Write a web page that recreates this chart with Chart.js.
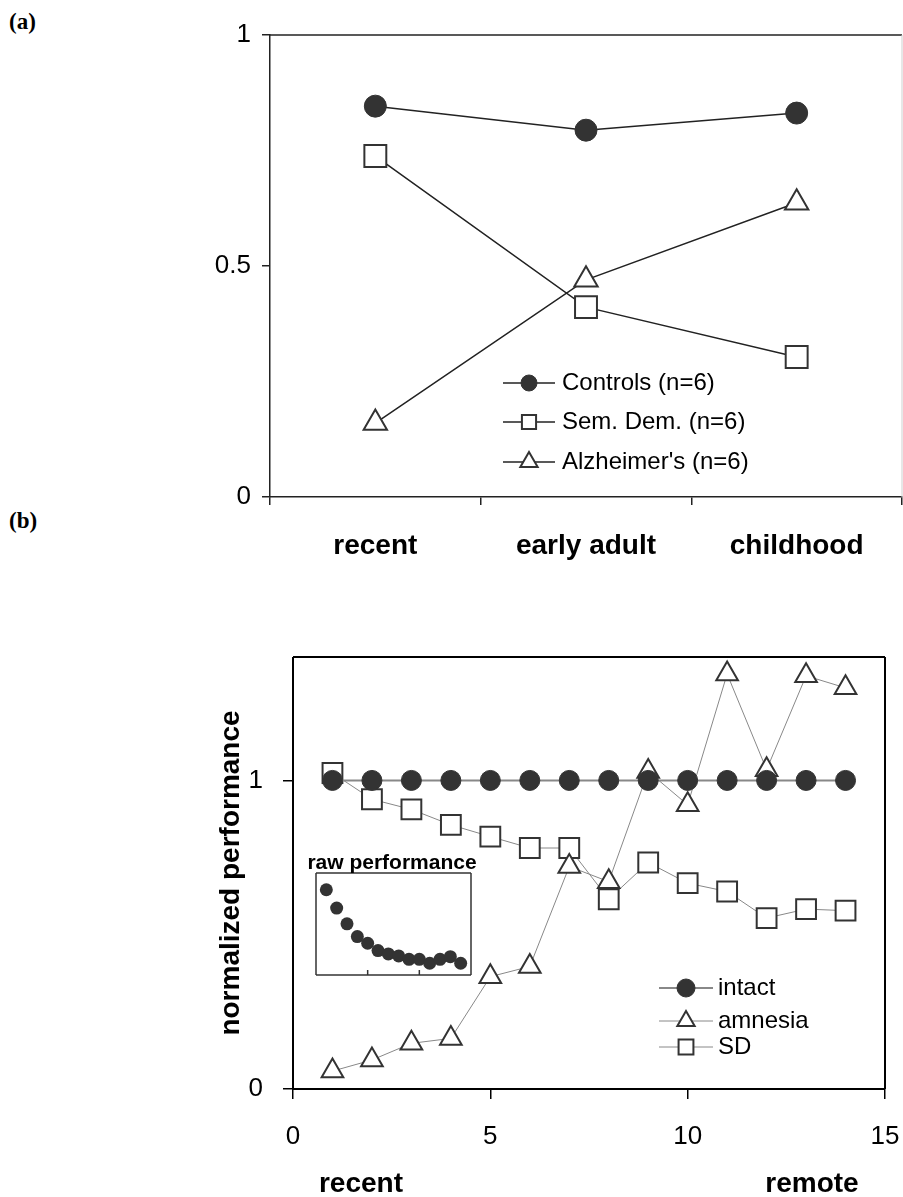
<!DOCTYPE html>
<html>
<head>
<meta charset="utf-8">
<script src="https://cdn.jsdelivr.net/npm/chart.js@4.4.1/dist/chart.umd.min.js"></script>
<style>
body { margin:0; background:#fff; width:903px; height:1197px; position:relative; overflow:hidden; font-family:"Liberation Sans", Arial, sans-serif; }
.wrap { position:absolute; }
.panel { position:absolute; left:9px; font-family:"Liberation Serif","Times New Roman",serif; font-weight:bold; font-size:23px; line-height:23px; }
.xt { position:absolute; font-weight:bold; font-size:28px; line-height:28px; transform:translateX(-50%); white-space:nowrap; }
.inset-title { position:absolute; font-weight:bold; font-size:21px; line-height:21px; transform:translateX(-50%); white-space:nowrap; }
</style>
</head>
<body>
<div class="panel" style="top:10px">(a)</div>
<div class="panel" style="top:509px">(b)</div>

<div class="wrap" style="left:0;top:0;width:903px;height:600px"><canvas id="chartA"></canvas></div>
<div class="wrap" style="left:0;top:600px;width:903px;height:597px"><canvas id="chartB"></canvas></div>
<div class="wrap" style="left:306px;top:863px;width:180px;height:120px"><canvas id="inset"></canvas></div>

<div class="inset-title" style="left:392px;top:851px">raw performance</div>
<div class="xt" style="left:361px;top:1169px">recent</div>
<div class="xt" style="left:812px;top:1169px">remote</div>

<script>
// (a) remote memory by period
var periods = ["recent", "early adult", "childhood"];
var controls = [0.846, 0.794, 0.831];
var semDem = [0.738, 0.411, 0.303];
var alzheimers = [0.160, 0.470, 0.637];

// (b) model, normalized performance by lag
var lags = [1, 2, 3, 4, 5, 6, 7, 8, 9, 10, 11, 12, 13, 14];
var intact = [1, 1, 1, 1, 1, 1, 1, 1, 1, 1, 1, 1, 1, 1];
var amnesia = [0.058, 0.094, 0.148, 0.164, 0.364, 0.397, 0.721, 0.672, 1.029, 0.921, 1.345, 1.035, 1.339, 1.30];
var sd = [1.024, 0.939, 0.906, 0.856, 0.818, 0.781, 0.781, 0.615, 0.734, 0.667, 0.640, 0.554, 0.583, 0.578];
var yTicksB = [0, 1];

// inset, raw performance of intact model
var raw = [0.836, 0.656, 0.502, 0.377, 0.311, 0.239, 0.207, 0.187, 0.154, 0.154, 0.115, 0.154, 0.180, 0.115];
var insetTicks = [5, 10];

Chart.defaults.font.family = '"Liberation Sans", Arial, sans-serif';
Chart.defaults.color = '#000';
Chart.defaults.animation = false;

// fixed axis sizes so the plot boxes land where the original has them
function fixW(w) { return function (s) { s.width = w; s.paddingTop = 0; s.paddingBottom = 0; }; }
function fixH(h) { return function (s) { s.height = h; s.paddingLeft = 0; s.paddingRight = 0; }; }
function pts(xs, ys) { return xs.map(function (x, i) { return { x: x, y: ys[i] }; }); }
function plainNum(v) { return String(v); }

// box sides + small inward ticks
var frame = {
    id: 'frame',
    beforeDatasetsDraw: function (chart, args, o) {
        var a = chart.chartArea, ctx = chart.ctx;
        ctx.save();
        function side(col, x1, y1, x2, y2) {
            if (!col) return;
            ctx.strokeStyle = col;
            ctx.beginPath(); ctx.moveTo(x1, y1); ctx.lineTo(x2, y2); ctx.stroke();
        }
        ctx.lineWidth = o.width || 1;
        side(o.top, a.left, a.top, a.right, a.top);
        side(o.bottom, a.left, a.bottom, a.right, a.bottom);
        side(o.left, a.left, a.top, a.left, a.bottom);
        ctx.lineWidth = o.rightWidth || o.width || 1;
        side(o.right, a.right, a.top, a.right, a.bottom);
        if (o.ticks) {
            ctx.lineWidth = o.width || 1;
            o.ticks.forEach(function (v) {
                var x = chart.scales.x.getPixelForValue(v);
                side(o.bottom || '#000', x, a.bottom, x, a.bottom - 5);
            });
        }
        ctx.restore();
    }
};

function marker(ctx, style, r, x, y) {
    ctx.beginPath();
    if (style === 'circle') {
        ctx.arc(x, y, r, 0, Math.PI * 2);
    } else if (style === 'rect') {
        var s = r * Math.SQRT1_2;
        ctx.rect(x - s, y - s, 2 * s, 2 * s);
    } else {
        ctx.moveTo(x, y - r);
        ctx.lineTo(x + r * 0.866, y + r / 2);
        ctx.lineTo(x - r * 0.866, y + r / 2);
        ctx.closePath();
    }
    ctx.fill();
    ctx.stroke();
}

// legend drawn as line-through-marker rows
var lineLegend = {
    id: 'lineLegend',
    afterDraw: function (chart, args, o) {
        var ctx = chart.ctx;
        ctx.save();
        ctx.font = o.font;
        ctx.textBaseline = 'middle';
        chart.data.datasets.forEach(function (ds, i) {
            var y = o.rows[i];
            ctx.strokeStyle = ds.borderColor;
            ctx.lineWidth = ds.borderWidth;
            ctx.beginPath(); ctx.moveTo(o.x0, y); ctx.lineTo(o.x1, y); ctx.stroke();
            ctx.fillStyle = ds.pointBackgroundColor;
            ctx.strokeStyle = ds.pointBorderColor;
            ctx.lineWidth = ds.pointBorderWidth;
            marker(ctx, ds.pointStyle, o.radius[i], (o.x0 + o.x1) / 2, y);
            ctx.fillStyle = '#000';
            ctx.fillText(ds.label, o.tx, y);
        });
        ctx.restore();
    }
};

new Chart(document.getElementById('chartA'), {
    type: 'line',
    data: {
        labels: periods,
        datasets: [
            { label: 'Controls (n=6)', data: controls, borderColor: '#222', borderWidth: 1.5,
              pointStyle: 'circle', pointRadius: 11, pointBackgroundColor: '#333', pointBorderColor: '#333', pointBorderWidth: 1 },
            { label: 'Sem. Dem. (n=6)', data: semDem, borderColor: '#222', borderWidth: 1.5,
              pointStyle: 'rect', pointRadius: 15.5, pointBackgroundColor: '#fff', pointBorderColor: '#333', pointBorderWidth: 2 },
            { label: "Alzheimer's (n=6)", data: alzheimers, borderColor: '#222', borderWidth: 1.5,
              pointStyle: 'triangle', pointRadius: 13.5, pointBackgroundColor: '#fff', pointBorderColor: '#333', pointBorderWidth: 2 }
        ]
    },
    options: {
        responsive: true, maintainAspectRatio: false,
        layout: { autoPadding: false, padding: { top: 35, right: 1, left: 0, bottom: 0 } },
        plugins: {
            legend: { display: false }, tooltip: { enabled: false },
            frame: { top: '#222', right: '#cfcfcf', width: 1.5, rightWidth: 1 },
            lineLegend: { x0: 503, x1: 555, tx: 562, rows: [383, 422, 462], radius: [8, 10, 10],
                          font: '24px "Liberation Sans", Arial, sans-serif' }
        },
        scales: {
            x: {
                type: 'category', offset: true,
                grid: { offset: true, drawOnChartArea: false, tickLength: 8, lineWidth: 1.5,
                        color: function (c) { return c.index === 3 ? 'rgba(0,0,0,0)' : '#222'; } },
                border: { color: '#222', width: 1.5 },
                ticks: { font: { size: 28, weight: 'bold' }, padding: 24 },
                afterFit: fixH(103)
            },
            y: {
                min: 0, max: 1,
                ticks: { stepSize: 0.5, font: { size: 26 }, padding: 11, callback: plainNum },
                grid: { drawOnChartArea: false, tickLength: 8, color: '#222', lineWidth: 1.5 },
                border: { color: '#222', width: 1.5 },
                afterFit: fixW(270)
            }
        }
    },
    plugins: [frame, lineLegend]
});

new Chart(document.getElementById('chartB'), {
    type: 'line',
    data: {
        datasets: [
            { label: 'intact', data: pts(lags, intact), borderColor: '#888', borderWidth: 2,
              pointStyle: 'circle', pointRadius: 10, pointBackgroundColor: '#333', pointBorderColor: '#333', pointBorderWidth: 1 },
            { label: 'amnesia', data: pts(lags, amnesia), borderColor: '#888', borderWidth: 1,
              pointStyle: 'triangle', pointRadius: 12.5, pointBackgroundColor: '#fff', pointBorderColor: '#333', pointBorderWidth: 2 },
            { label: 'SD', data: pts(lags, sd), borderColor: '#888', borderWidth: 1,
              pointStyle: 'rect', pointRadius: 14, pointBackgroundColor: '#fff', pointBorderColor: '#333', pointBorderWidth: 2 }
        ]
    },
    options: {
        responsive: true, maintainAspectRatio: false,
        layout: { autoPadding: false, padding: { top: 57, right: 18, left: 0, bottom: 0 } },
        plugins: {
            legend: { display: false }, tooltip: { enabled: false },
            frame: { top: '#000', right: '#000', bottom: '#000', left: '#000', width: 2 },
            lineLegend: { x0: 659, x1: 713, tx: 718, rows: [388, 421, 447], radius: [9, 10, 10.5],
                          font: '24px "Liberation Sans", Arial, sans-serif' }
        },
        scales: {
            x: {
                type: 'linear', min: 0, max: 15,
                ticks: { stepSize: 5, font: { size: 26 }, padding: 22 },
                grid: { drawOnChartArea: false, tickLength: 10, color: '#000', lineWidth: 1.5 },
                border: { display: false },
                afterFit: fixH(108)
            },
            y: {
                min: 0, max: 1.4,
                afterBuildTicks: function (s) { s.ticks = yTicksB.map(function (v) { return { value: v }; }); },
                ticks: { font: { size: 26 }, padding: 20 },
                grid: { drawOnChartArea: false, tickLength: 10, color: '#000', lineWidth: 1.5 },
                border: { display: false },
                title: { display: true, text: 'normalized performance', font: { size: 28, weight: 'bold' },
                         padding: { top: 214, bottom: 0 } },
                afterFit: fixW(293)
            }
        }
    },
    plugins: [frame, lineLegend]
});

new Chart(document.getElementById('inset'), {
    type: 'line',
    data: {
        datasets: [
            { label: 'raw', data: pts(lags, raw), showLine: false,
              pointStyle: 'circle', pointRadius: 6.5, pointBackgroundColor: '#333', pointBorderColor: '#333', pointBorderWidth: 0 }
        ]
    },
    options: {
        responsive: true, maintainAspectRatio: false,
        layout: { autoPadding: false, padding: { top: 10, right: 15, left: 0, bottom: 0 } },
        plugins: {
            legend: { display: false }, tooltip: { enabled: false },
            frame: { top: '#333', right: '#333', bottom: '#333', left: '#333', width: 1.5, ticks: insetTicks }
        },
        scales: {
            x: { type: 'linear', min: 0, max: 15, ticks: { display: false }, grid: { display: false },
                 border: { display: false }, afterFit: fixH(8) },
            y: { min: 0, max: 1, ticks: { display: false }, grid: { display: false },
                 border: { display: false }, afterFit: fixW(10) }
        }
    },
    plugins: [frame]
});
</script>
</body>
</html>
